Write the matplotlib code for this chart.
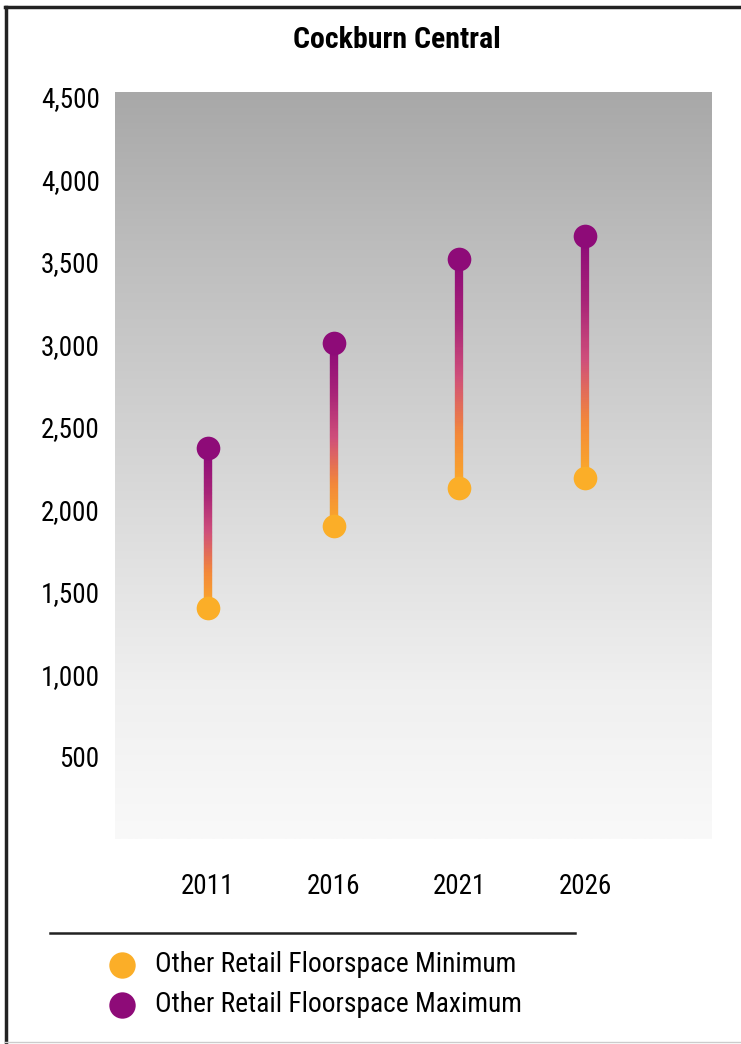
import numpy as np
import matplotlib
matplotlib.use("Agg")
import matplotlib.pyplot as plt
from matplotlib.collections import LineCollection
from matplotlib.colors import LinearSegmentedColormap
from matplotlib.lines import Line2D

years = ["2011", "2016", "2021", "2026"]
floor_min = [1400, 1900, 2130, 2190]
floor_max = [2370, 3010, 3520, 3660]
y_ticks = [500, 1000, 1500, 2000, 2500, 3000, 3500, 4000, 4500]

title = "Cockburn Central"
label_min = "Other Retail Floorspace Minimum"
label_max = "Other Retail Floorspace Maximum"

col_min = "#FBAE28"
col_max = "#8E0B78"

plt.rcParams["font.family"] = ["Roboto Condensed", "PT Sans Narrow", "DejaVu Sans"]

W, H = 741, 1044
fig = plt.figure(figsize=(W / 100, H / 100), dpi=100)
fig.patch.set_facecolor("white")

def fx(px):
    return px / W

def fy(py):
    return 1 - py / H

ax = fig.add_axes([fx(115), fy(839.5), fx(712 - 115), (839.5 - 92) / H])
ax.set_ylim(0, 4530)
ax.set_xlim(-0.74, 4.01)

# grey backdrop fading to white toward the bottom
grad = np.linspace(0, 1, 256).reshape(-1, 1)
bg_cmap = LinearSegmentedColormap.from_list(
    "bg", [(0.0, "#f9f9f9"), (0.2, "#f0f0f0"), (0.5, "#d6d6d6"),
           (0.8, "#bcbcbc"), (1.0, "#a8a8a8")])
ax.imshow(grad, cmap=bg_cmap, aspect="auto", origin="lower",
          extent=[-0.74, 4.01, 0, 4530], zorder=0)

# stems shaded from the minimum colour up to the maximum colour
stem_cmap = LinearSegmentedColormap.from_list(
    "stem", [col_min, "#F3883A", "#D0507A", "#A82478", col_max])
for i, (lo, hi) in enumerate(zip(floor_min, floor_max)):
    ys = np.linspace(lo, hi, 120)
    pts = np.column_stack([np.full_like(ys, i), ys]).reshape(-1, 1, 2)
    segs = np.concatenate([pts[:-1], pts[1:]], axis=1)
    lc = LineCollection(segs, cmap=stem_cmap, linewidths=5.8,
                        capstyle="projecting", zorder=2)
    lc.set_array(np.linspace(0, 1, len(segs)))
    ax.add_collection(lc)

x = np.arange(len(years))
ax.scatter(x, floor_min, s=290, color=col_min, zorder=3, linewidths=0)
ax.scatter(x, floor_max, s=290, color=col_max, zorder=3, linewidths=0)

ax.set_xticks(x)
ax.set_xticklabels(years, fontsize=19.5)
ax.set_yticks(y_ticks)
ax.set_yticklabels([f"{v:,}" for v in y_ticks], fontsize=19.5)
ax.tick_params(axis="both", length=0)
ax.tick_params(axis="y", pad=11)
ax.tick_params(axis="x", pad=24)
for s in ax.spines.values():
    s.set_visible(False)

fig.text(fx(397), fy(40), title, ha="center", va="center", fontsize=21.5,
         fontweight="bold")

# legend rule and entries
fig.add_artist(Line2D([fx(50), fx(575)], [fy(933), fy(933)], color="#222222", lw=1.8))
fig.add_artist(Line2D([fx(122)], [fy(965)], marker="o", markersize=19,
                      color=col_min, markeredgewidth=0, linestyle="none"))
fig.add_artist(Line2D([fx(122)], [fy(1005)], marker="o", markersize=19,
                      color=col_max, markeredgewidth=0, linestyle="none"))
fig.text(fx(155), fy(965), label_min, ha="left", va="center", fontsize=19.8)
fig.text(fx(155), fy(1005), label_max, ha="left", va="center", fontsize=19.8)

# frame lines on the top, left and bottom edges
fig.add_artist(Line2D([fx(5), fx(741)], [fy(7), fy(7)], color="#222222", lw=2.5))
fig.add_artist(Line2D([fx(6), fx(6)], [fy(7), fy(1042)], color="#222222", lw=2.5))
fig.add_artist(Line2D([fx(5), fx(741)], [fy(1042), fy(1042)], color="#cccccc", lw=1))

fig.savefig("out.png", dpi=100)
